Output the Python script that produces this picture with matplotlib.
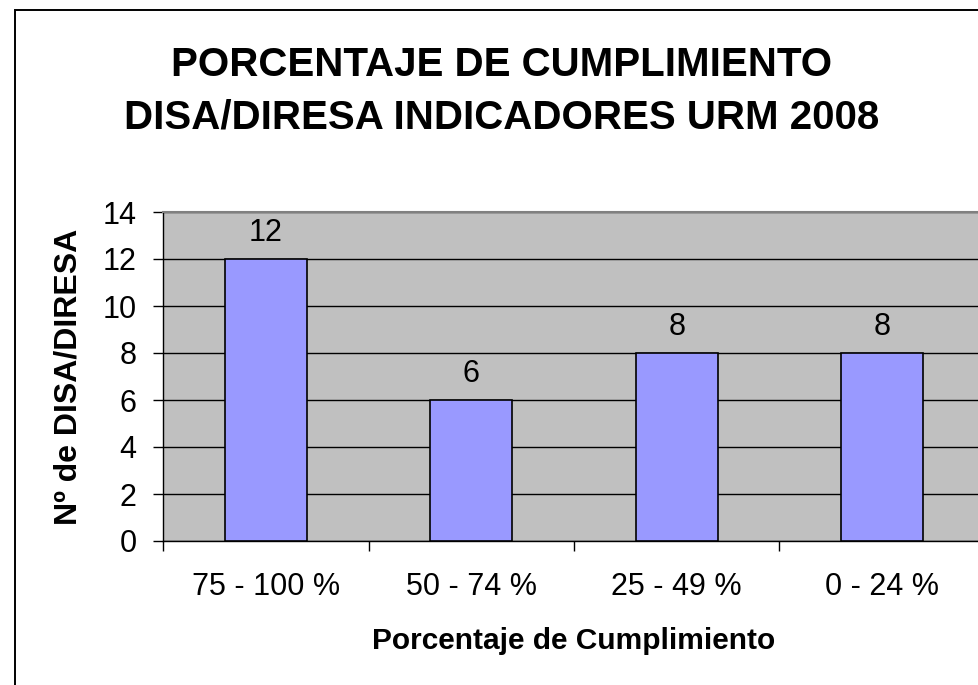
import matplotlib.pyplot as plt
from matplotlib.patches import Rectangle

categories = ["75 - 100 %", "50 - 74 %", "25 - 49 %", "0 - 24 %"]
values = [12, 6, 8, 8]
y_ticks = [0, 2, 4, 6, 8, 10, 12, 14]

plt.rcParams['font.family'] = ['Liberation Sans', 'DejaVu Sans']

fig = plt.figure(figsize=(9.79, 6.85), dpi=100)
ax = fig.add_axes([163 / 979, 1 - 541 / 685, 822 / 979, 329 / 685])

# outer chart frame (right and bottom edges fall outside the image)
fig.patches.append(Rectangle((15 / 979, -0.1), 1.2, 1.1 - 10 / 685,
                             transform=fig.transFigure, fill=False,
                             edgecolor='black', linewidth=1.4))

ax.set_facecolor('#C0C0C0')
x = range(len(values))
ax.bar(x, values, width=0.4, color='#9999FF', edgecolor='black',
       linewidth=1.2, zorder=3)
for xi, v in zip(x, values):
    ax.annotate(str(v), (xi, v), xytext=(0, 8), textcoords='offset points',
                ha='center', va='bottom', fontsize=22)

ax.set_xlim(-0.5, 3.5)
ax.set_ylim(0, 14)
ax.set_yticks(y_ticks)
ax.yaxis.grid(True, color='black', linewidth=1.0, zorder=1)
ax.set_axisbelow(True)
ax.tick_params(axis='y', direction='out', length=7, width=1, labelsize=22, pad=12)

ax.set_xticks([-0.5, 0.5, 1.5, 2.5])
ax.set_xticklabels([])
ax.set_xticks(list(x), minor=True)
ax.set_xticklabels(categories, minor=True, fontsize=22)
ax.tick_params(axis='x', which='major', direction='out', length=7, width=1)
ax.tick_params(axis='x', which='minor', length=0, pad=22)

for s in ['left', 'bottom']:
    ax.spines[s].set_color('black')
    ax.spines[s].set_linewidth(1.0)
ax.spines['top'].set_color('#808080')
ax.spines['top'].set_linewidth(1.5)
ax.spines['right'].set_visible(False)

ax.set_xlabel("Porcentaje de Cumplimiento", fontsize=21.5, fontweight='bold',
              labelpad=18)
ax.set_ylabel("Nº de DISA/DIRESA", fontsize=23, fontweight='bold', labelpad=14)

fig.text(502 / 979, 1 - 91 / 685,
         "PORCENTAJE DE CUMPLIMIENTO\nDISA/DIRESA INDICADORES URM 2008",
         ha='center', va='center', fontsize=29, fontweight='bold',
         linespacing=1.47)

fig.savefig("out.png", dpi=100)
